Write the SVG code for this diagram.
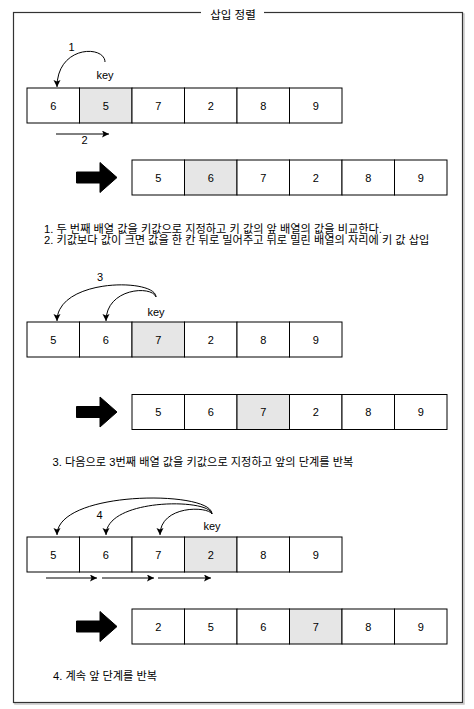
<svg xmlns="http://www.w3.org/2000/svg" width="474" height="709" viewBox="0 0 474 709">
<style>
.cell{fill:#fff;stroke:#000;stroke-width:1}
.key{fill:#e6e6e6;stroke:#000;stroke-width:1}
.num{font-family:"Liberation Sans",Arial,sans-serif;font-size:11px;fill:#000;text-anchor:middle}
.lbl{font-family:"Liberation Sans",Arial,sans-serif;font-size:11px;fill:#000;text-anchor:middle}
.kr{font-family:"Liberation Sans","Noto Sans CJK KR",sans-serif;font-size:11.2px;fill:#000}
.edge{fill:none;stroke:#000;stroke-width:1}
.big{fill:#000;stroke:#000;stroke-width:1}
</style>
<defs>
<marker id="ah" markerUnits="userSpaceOnUse" markerWidth="10" markerHeight="10" refX="7" refY="3.5" orient="auto">
<path d="M0,0 L7,3.5 L0,7 L1.5,3.5 Z" fill="#000"/>
</marker>
</defs>
<rect width="474" height="709" fill="#fff"/>
<g id="frame">
<rect x="15" y="14" width="449" height="690" fill="none" stroke="#c8c8c8" stroke-width="1.5"/>
<rect x="13.5" y="12.5" width="449" height="690" fill="#fff" stroke="#333" stroke-width="1.2"/>
<rect x="201" y="6" width="63" height="13" fill="#fff"/>
<text class="kr" x="233" y="18.5" text-anchor="middle" style="font-size:11.5px">삽입 정렬</text>
</g>

<g id="array1">
<rect class="cell" x="27" y="88" width="52.5" height="35"/>
<rect class="key" x="79.5" y="88" width="52.5" height="35"/>
<rect class="cell" x="132" y="88" width="52.5" height="35"/>
<rect class="cell" x="184.5" y="88" width="52.5" height="35"/>
<rect class="cell" x="237" y="88" width="52.5" height="35"/>
<rect class="cell" x="289.5" y="88" width="52.5" height="35"/>
<text class="num" x="53.25" y="109.5">6</text>
<text class="num" x="105.75" y="109.5">5</text>
<text class="num" x="158.25" y="109.5">7</text>
<text class="num" x="210.75" y="109.5">2</text>
<text class="num" x="263.25" y="109.5">8</text>
<text class="num" x="315.75" y="109.5">9</text>
</g>
<g id="key1"><text class="lbl" x="105" y="79">key</text></g>
<g id="bigarrow1"><polygon class="big" points="76.5,172 100,172 100,162.5 117,177.5 100,192.5 100,183 76.5,183"/></g>
<g id="array1b">
<rect class="cell" x="132" y="160" width="52.5" height="35"/>
<rect class="key" x="184.5" y="160" width="52.5" height="35"/>
<rect class="cell" x="237" y="160" width="52.5" height="35"/>
<rect class="cell" x="289.5" y="160" width="52.5" height="35"/>
<rect class="cell" x="342" y="160" width="52.5" height="35"/>
<rect class="cell" x="394.5" y="160" width="52.5" height="35"/>
<text class="num" x="158.25" y="181.5">5</text>
<text class="num" x="210.75" y="181.5">6</text>
<text class="num" x="263.25" y="181.5">7</text>
<text class="num" x="315.75" y="181.5">2</text>
<text class="num" x="368.25" y="181.5">8</text>
<text class="num" x="420.75" y="181.5">9</text>
</g>
<g id="desc1">
<text class="kr" x="44" y="233">1. 두 번째 배열 값을 키값으로 지정하고 키 값의 앞 배열의 값을 비교한다.</text>
<text class="kr" x="44" y="244">2. 키값보다 값이 크면 값을 한 칸 뒤로 밀어주고 뒤로 밀린 배열의 자리에 키 값 삽입</text>
</g>

<g id="array2">
<rect class="cell" x="27" y="322" width="52.5" height="35"/>
<rect class="cell" x="79.5" y="322" width="52.5" height="35"/>
<rect class="key" x="132" y="322" width="52.5" height="35"/>
<rect class="cell" x="184.5" y="322" width="52.5" height="35"/>
<rect class="cell" x="237" y="322" width="52.5" height="35"/>
<rect class="cell" x="289.5" y="322" width="52.5" height="35"/>
<text class="num" x="53.25" y="343.5">5</text>
<text class="num" x="105.75" y="343.5">6</text>
<text class="num" x="158.25" y="343.5">7</text>
<text class="num" x="210.75" y="343.5">2</text>
<text class="num" x="263.25" y="343.5">8</text>
<text class="num" x="315.75" y="343.5">9</text>
</g>
<g id="key2"><text class="lbl" x="156" y="315.5">key</text></g>
<g id="bigarrow2"><polygon class="big" points="76.5,406.5 100,406.5 100,397 117,412 100,427 100,417.5 76.5,417.5"/></g>
<g id="array2b">
<rect class="cell" x="132" y="394.5" width="52.5" height="35"/>
<rect class="cell" x="184.5" y="394.5" width="52.5" height="35"/>
<rect class="key" x="237" y="394.5" width="52.5" height="35"/>
<rect class="cell" x="289.5" y="394.5" width="52.5" height="35"/>
<rect class="cell" x="342" y="394.5" width="52.5" height="35"/>
<rect class="cell" x="394.5" y="394.5" width="52.5" height="35"/>
<text class="num" x="158.25" y="416">5</text>
<text class="num" x="210.75" y="416">6</text>
<text class="num" x="263.25" y="416">7</text>
<text class="num" x="315.75" y="416">2</text>
<text class="num" x="368.25" y="416">8</text>
<text class="num" x="420.75" y="416">9</text>
</g>
<g id="desc2">
<text class="kr" x="52.5" y="465.5">3. 다음으로 3번째 배열 값을 키값으로 지정하고 앞의 단계를 반복</text>
</g>

<g id="array3">
<rect class="cell" x="27" y="537" width="52.5" height="35"/>
<rect class="cell" x="79.5" y="537" width="52.5" height="35"/>
<rect class="cell" x="132" y="537" width="52.5" height="35"/>
<rect class="key" x="184.5" y="537" width="52.5" height="35"/>
<rect class="cell" x="237" y="537" width="52.5" height="35"/>
<rect class="cell" x="289.5" y="537" width="52.5" height="35"/>
<text class="num" x="53.25" y="558.5">5</text>
<text class="num" x="105.75" y="558.5">6</text>
<text class="num" x="158.25" y="558.5">7</text>
<text class="num" x="210.75" y="558.5">2</text>
<text class="num" x="263.25" y="558.5">8</text>
<text class="num" x="315.75" y="558.5">9</text>
</g>
<g id="key3"><text class="lbl" x="212" y="529.5">key</text></g>
<g id="bigarrow3"><polygon class="big" points="76.5,621 100,621 100,611.5 117,626.5 100,641.5 100,632 76.5,632"/></g>
<g id="array3b">
<rect class="cell" x="132" y="609" width="52.5" height="35"/>
<rect class="cell" x="184.5" y="609" width="52.5" height="35"/>
<rect class="cell" x="237" y="609" width="52.5" height="35"/>
<rect class="key" x="289.5" y="609" width="52.5" height="35"/>
<rect class="cell" x="342" y="609" width="52.5" height="35"/>
<rect class="cell" x="394.5" y="609" width="52.5" height="35"/>
<text class="num" x="158.25" y="630.5">2</text>
<text class="num" x="210.75" y="630.5">5</text>
<text class="num" x="263.25" y="630.5">6</text>
<text class="num" x="315.75" y="630.5">7</text>
<text class="num" x="368.25" y="630.5">8</text>
<text class="num" x="420.75" y="630.5">9</text>
</g>
<g id="desc3">
<text class="kr" x="53" y="680">4. 계속 앞 단계를 반복</text>
</g>

<g id="connectors">
<path class="edge" marker-end="url(#ah)" d="M105,62 C105,45 57,45 57,87"/>
<text class="lbl" x="71.5" y="50.5">1</text>
<path class="edge" marker-end="url(#ah)" d="M56,134 L109,134"/>
<text class="lbl" x="84.5" y="144">2</text>

<path class="edge" marker-end="url(#ah)" d="M156,297 C156,278 57,278 57,321"/>
<path class="edge" marker-end="url(#ah)" d="M156,297 C152,285 106,288 106,321"/>
<text class="lbl" x="100" y="280.5">3</text>

<path class="edge" marker-end="url(#ah)" d="M212,514 C212,490 57,490 57,535"/>
<path class="edge" marker-end="url(#ah)" d="M212,514 C210,498 106,498 106,535"/>
<path class="edge" marker-end="url(#ah)" d="M212,514 C208,506 160,505 160,535"/>
<text class="lbl" x="99.5" y="519">4</text>
<path class="edge" marker-end="url(#ah)" d="M46,578 L97,578"/>
<path class="edge" marker-end="url(#ah)" d="M102,578 L154,578"/>
<path class="edge" marker-end="url(#ah)" d="M158,578 L211,578"/>
</g>
</svg>
